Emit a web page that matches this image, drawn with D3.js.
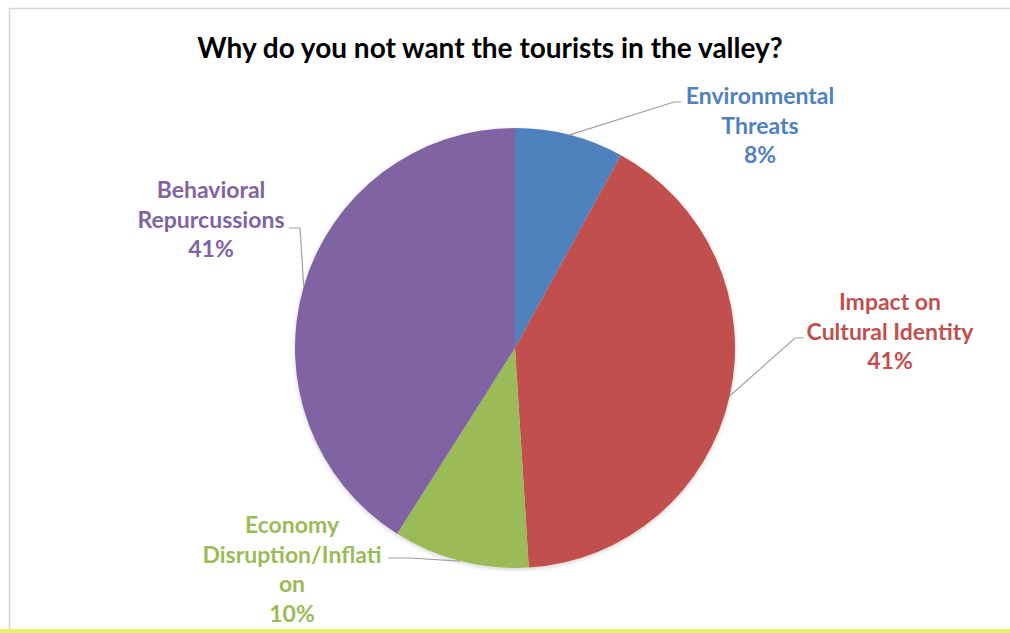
<!DOCTYPE html>
<html>
<head>
<meta charset="utf-8">
<script src="https://cdn.jsdelivr.net/npm/d3@7"></script>
<style>
  html, body { margin: 0; padding: 0; background: #fff; }
  svg { display: block; }
  text { font-family: Lato, "Open Sans", sans-serif; font-weight: 700; }
</style>
</head>
<body>
<svg id="chart" width="1010" height="633"></svg>
<script>
// Survey answers: reasons for not wanting tourists in the valley
const categories = ["Environmental Threats", "Impact on Cultural Identity", "Economy Disruption/Inflation", "Behavioral Repurcussions"];
const values = [8, 41, 10, 41];
const labelLines = [
  ["Environmental", "Threats"],
  ["Impact on", "Cultural Identity"],
  ["Economy", "Disruption/Inflati", "on"],
  ["Behavioral", "Repurcussions"]
];
const colors = ["#4F81BD", "#C0504D", "#9BBB59", "#8064A2"];
const title = "Why do you not want the tourists in the valley?";

const W = 1010, H = 633;
const cx = 515, cy = 348, R = 220;

// label block placement: text centre x, first baseline, and elbow / end of leader line
const labelLayout = [
  { x: 760, y: 104, elbow: [674, 102], end: [681, 102] },
  { x: 890, y: 310, elbow: [795, 338], end: [804, 338] },
  { x: 292, y: 533, elbow: [410, 558], end: [388, 558] },
  { x: 211, y: 198, elbow: [300, 228], end: [289, 228] }
];
const lineGap = 29.7;

const svg = d3.select("#chart");

// frame of the chart area
svg.append("line").attr("x1", 9).attr("x2", W).attr("y1", 8.5).attr("y2", 8.5)
  .attr("stroke", "#d6d6d6").attr("stroke-width", 1.5);
svg.append("line").attr("x1", 9.5).attr("x2", 9.5).attr("y1", 8).attr("y2", 630)
  .attr("stroke", "#d6d6d6").attr("stroke-width", 1.5);
svg.append("rect").attr("x", 0).attr("y", 629).attr("width", W).attr("height", 4)
  .attr("fill", "#eaf06a");

// title
svg.append("text")
  .attr("x", 490).attr("y", 58)
  .attr("text-anchor", "middle")
  .attr("font-size", 28)
  .attr("fill", "#000")
  .text(title);

// soft shadow under the pie
const defs = svg.append("defs");
const f = defs.append("filter").attr("id", "pieShadow")
  .attr("x", "-10%").attr("y", "-10%").attr("width", "120%").attr("height", "120%");
f.append("feDropShadow").attr("dx", 0).attr("dy", 1.5).attr("stdDeviation", 2)
  .attr("flood-color", "#000").attr("flood-opacity", 0.18);

const pie = d3.pie().sort(null).value(d => d)(values);
const arc = d3.arc().innerRadius(0).outerRadius(R);

const g = svg.append("g").attr("transform", `translate(${cx},${cy})`);
g.append("g").attr("filter", "url(#pieShadow)")
  .selectAll("path")
  .data(pie)
  .join("path")
  .attr("d", arc)
  .attr("fill", (d, i) => colors[i]);

// leader lines from the slice rim to each label
pie.forEach((d, i) => {
  const a = (d.startAngle + d.endAngle) / 2;
  const p0 = [cx + R * Math.sin(a), cy - R * Math.cos(a)];
  const L = labelLayout[i];
  svg.append("polyline")
    .attr("points", [p0, L.elbow, L.end].map(p => p.join(",")).join(" "))
    .attr("fill", "none")
    .attr("stroke", "#a0a0a0")
    .attr("stroke-width", 1.2);
});

// data labels: category name lines plus percentage
pie.forEach((d, i) => {
  const L = labelLayout[i];
  const lines = labelLines[i].concat([d.data + "%"]);
  const t = svg.append("text")
    .attr("text-anchor", "middle")
    .attr("font-size", 23)
    .attr("fill", colors[i]);
  lines.forEach((s, k) => {
    t.append("tspan").attr("x", L.x).attr("y", L.y + k * lineGap).text(s);
  });
});
</script>
</body>
</html>
